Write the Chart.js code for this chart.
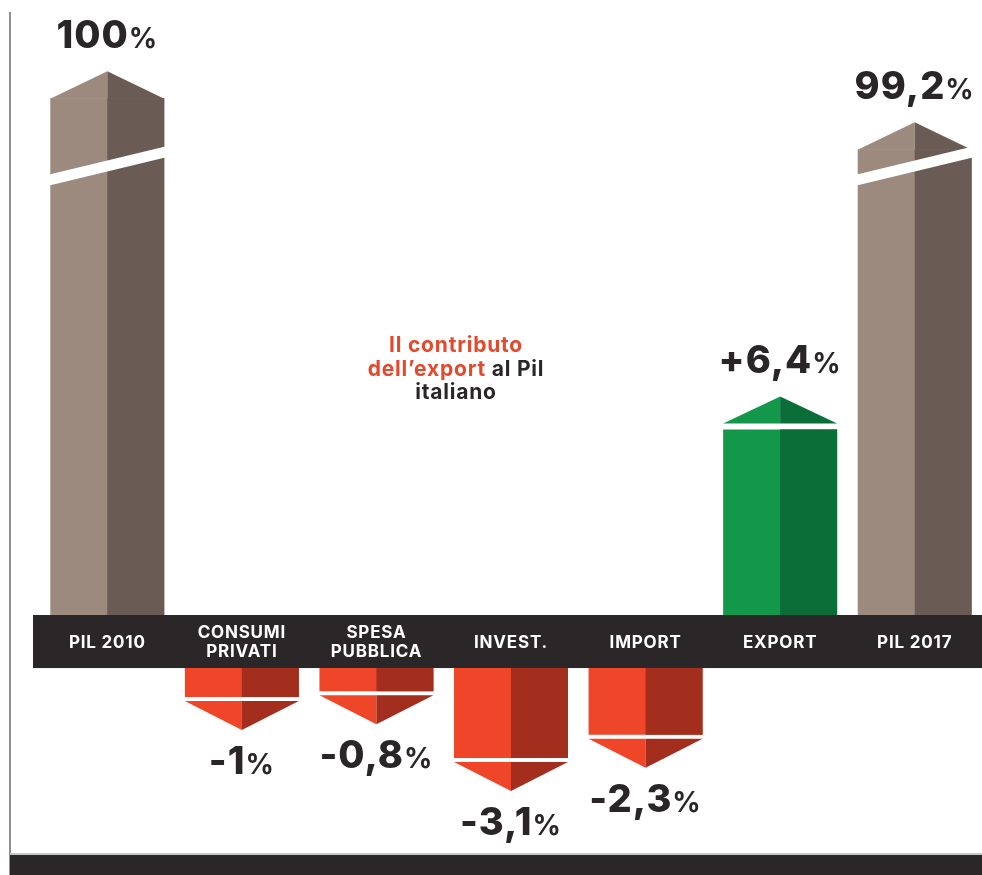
<!DOCTYPE html>
<html>
<head>
<meta charset="utf-8">
<script src="https://cdn.jsdelivr.net/npm/chart.js@4/dist/chart.umd.min.js"></script>
<style>
  html, body { margin: 0; padding: 0; background: #fff; }
  canvas { display: block; }
</style>
</head>
<body>
<canvas id="pilChart" width="982" height="875"></canvas>
<script>
// categories and values
const categories = [['PIL 2010'], ['CONSUMI', 'PRIVATI'], ['SPESA', 'PUBBLICA'], ['INVEST.'], ['IMPORT'], ['EXPORT'], ['PIL 2017']];
const values = [100, -1, -0.8, -3.1, -2.3, 6.4, 99.2];
const kinds = ['level', 'change', 'change', 'change', 'change', 'change', 'level'];

// broken axis for the two PIL levels: only the top of the bar is shown
const breakFrom = 91.9;
const breakStretch = 2.2;
const breakMark = 15.5;
// height of the black category band, in value units
const bandGap = 1.83;

const palette = {
    level: ['#9c8a7e', '#6a5c55'],
    up: ['#13974a', '#0b6e38'],
    down: ['#ef4629', '#a32e1e']
};

function colorKey(i) {
    if (kinds[i] === 'level') return 'level';
    return values[i] >= 0 ? 'up' : 'down';
}

const barData = values.map((v, i) => {
    if (kinds[i] === 'level') return [0, (v - breakFrom) * breakStretch];
    if (v >= 0) return [0, v];
    return [-bandGap, -bandGap + v];
});

function fmt(v, i) {
    const s = String(v).replace('.', ',');
    return (kinds[i] === 'change' && v > 0 ? '+' : '') + s;
}

const FONT = 'Inter, "Open Sans", sans-serif';
const TEXT = '#2a2627';
const BAND = '#2b2728';

function drawValue(ctx, text, x, baseline) {
    ctx.textBaseline = 'alphabetic';
    ctx.textAlign = 'left';
    ctx.letterSpacing = '1px';
    ctx.font = '800 38px ' + FONT;
    const w1 = ctx.measureText(text).width;
    ctx.font = '700 28px ' + FONT;
    const w2 = ctx.measureText('%').width;
    const left = x - (w1 + w2) / 2;
    ctx.fillStyle = TEXT;
    ctx.font = '800 38px ' + FONT;
    ctx.fillText(text, left, baseline);
    ctx.font = '700 28px ' + FONT;
    ctx.fillText('%', left + w1, baseline);
    ctx.letterSpacing = '0px';
}

const infographic = {
    id: 'infographic',
    beforeDatasetsDraw(chart) {
        const ctx = chart.ctx;
        const y = chart.scales.y;
        const top = y.getPixelForValue(0);
        const bottom = y.getPixelForValue(-bandGap);
        ctx.save();
        // left rule and bottom band
        ctx.fillStyle = '#8f8f8f';
        ctx.fillRect(9, 12, 2, chart.height - 12);
        ctx.fillStyle = '#c8c8c8';
        ctx.fillRect(10, chart.height - 22, chart.width - 10, 2);
        ctx.fillStyle = BAND;
        ctx.fillRect(10, chart.height - 20, chart.width - 10, 20);
        // category band
        ctx.fillStyle = BAND;
        ctx.fillRect(chart.chartArea.left - 7, top, chart.width, bottom - top);
        ctx.restore();
    },
    afterDatasetsDraw(chart) {
        const ctx = chart.ctx;
        const yScale = chart.scales.y;
        const xScale = chart.scales.x;
        const meta = chart.getDatasetMeta(0);
        ctx.save();
        meta.data.forEach((bar, i) => {
            const { x, y, base, width } = bar.getProps(['x', 'y', 'base', 'width'], true);
            const [light, dark] = palette[colorKey(i)];
            const left = x - width / 2;
            const right = x + width / 2;
            // darker right face
            ctx.fillStyle = dark;
            ctx.fillRect(x, Math.min(y, base), width / 2, Math.abs(y - base));

            let tip;
            if (kinds[i] === 'level') {
                const roof = 27;
                tip = y - roof;
                ctx.fillStyle = light;
                ctx.beginPath(); ctx.moveTo(left, y + 0.5); ctx.lineTo(x, tip); ctx.lineTo(x, y + 0.5); ctx.closePath(); ctx.fill();
                ctx.fillStyle = dark;
                ctx.beginPath(); ctx.moveTo(x, y + 0.5); ctx.lineTo(x, tip); ctx.lineTo(right, y + 0.5); ctx.closePath(); ctx.fill();
                // break mark
                const yb = yScale.getPixelForValue(breakMark);
                ctx.fillStyle = '#ffffff';
                ctx.beginPath();
                ctx.moveTo(left - 1, yb + 20);
                ctx.lineTo(left - 1, yb + 9);
                ctx.lineTo(right + 1, yb - 19);
                ctx.lineTo(right + 1, yb - 8);
                ctx.closePath();
                ctx.fill();
                drawValue(ctx, fmt(values[i], i), x, tip - 23);
            } else if (values[i] >= 0) {
                const start = y - 6;
                tip = start - 27;
                ctx.fillStyle = light;
                ctx.beginPath(); ctx.moveTo(left, start); ctx.lineTo(x, tip); ctx.lineTo(x, start); ctx.closePath(); ctx.fill();
                ctx.fillStyle = dark;
                ctx.beginPath(); ctx.moveTo(x, start); ctx.lineTo(x, tip); ctx.lineTo(right, start); ctx.closePath(); ctx.fill();
                drawValue(ctx, fmt(values[i], i), x, tip - 23);
            } else {
                const start = y + 4;
                tip = start + 29;
                ctx.fillStyle = light;
                ctx.beginPath(); ctx.moveTo(left, start); ctx.lineTo(x, tip); ctx.lineTo(x, start); ctx.closePath(); ctx.fill();
                ctx.fillStyle = dark;
                ctx.beginPath(); ctx.moveTo(x, start); ctx.lineTo(x, tip); ctx.lineTo(right, start); ctx.closePath(); ctx.fill();
                drawValue(ctx, fmt(values[i], i), x, tip + 44);
            }
        });

        // category labels inside the band
        const bandMid = (yScale.getPixelForValue(0) + yScale.getPixelForValue(-bandGap)) / 2;
        ctx.fillStyle = '#ffffff';
        ctx.font = '700 17px ' + FONT;
        ctx.letterSpacing = '0.8px';
        ctx.textAlign = 'center';
        ctx.textBaseline = 'middle';
        chart.data.labels.forEach((lines, i) => {
            const cx = xScale.getPixelForValue(i);
            const lh = 19;
            const y0 = bandMid - (lines.length - 1) * lh / 2 + 1;
            lines.forEach((t, k) => ctx.fillText(t, cx, y0 + k * lh));
        });

        // title in the middle
        const red = '#e4492c';
        const tx = 456;
        ctx.textBaseline = 'alphabetic';
        ctx.font = '700 21px ' + FONT;
        ctx.letterSpacing = '0.8px';
        ctx.fillStyle = red;
        ctx.textAlign = 'center';
        ctx.fillText('Il contributo', tx, 352);
        const p1 = 'dell\u2019export', p2 = ' al Pil';
        const w1 = ctx.measureText(p1).width, w2 = ctx.measureText(p2).width;
        ctx.textAlign = 'left';
        ctx.fillText(p1, tx - (w1 + w2) / 2, 376);
        ctx.fillStyle = TEXT;
        ctx.fillText(p2, tx - (w1 + w2) / 2 + w1, 376);
        ctx.textAlign = 'center';
        ctx.fillText('italiano', tx, 399);
        ctx.restore();
    }
};

new Chart(document.getElementById('pilChart').getContext('2d'), {
    type: 'bar',
    data: {
        labels: categories,
        datasets: [{
            data: barData,
            backgroundColor: values.map((v, i) => palette[colorKey(i)][0]),
            borderWidth: 0,
            barPercentage: 0.847,
            categoryPercentage: 1
        }]
    },
    options: {
        responsive: false,
        animation: false,
        layout: { padding: { left: 40, right: 0, top: 0, bottom: 0 } },
        plugins: {
            legend: { display: false },
            tooltip: { enabled: false }
        },
        scales: {
            x: { display: false },
            y: { display: false, min: -8.966, max: 21.207 }
        }
    },
    plugins: [infographic]
});
</script>
</body>
</html>
